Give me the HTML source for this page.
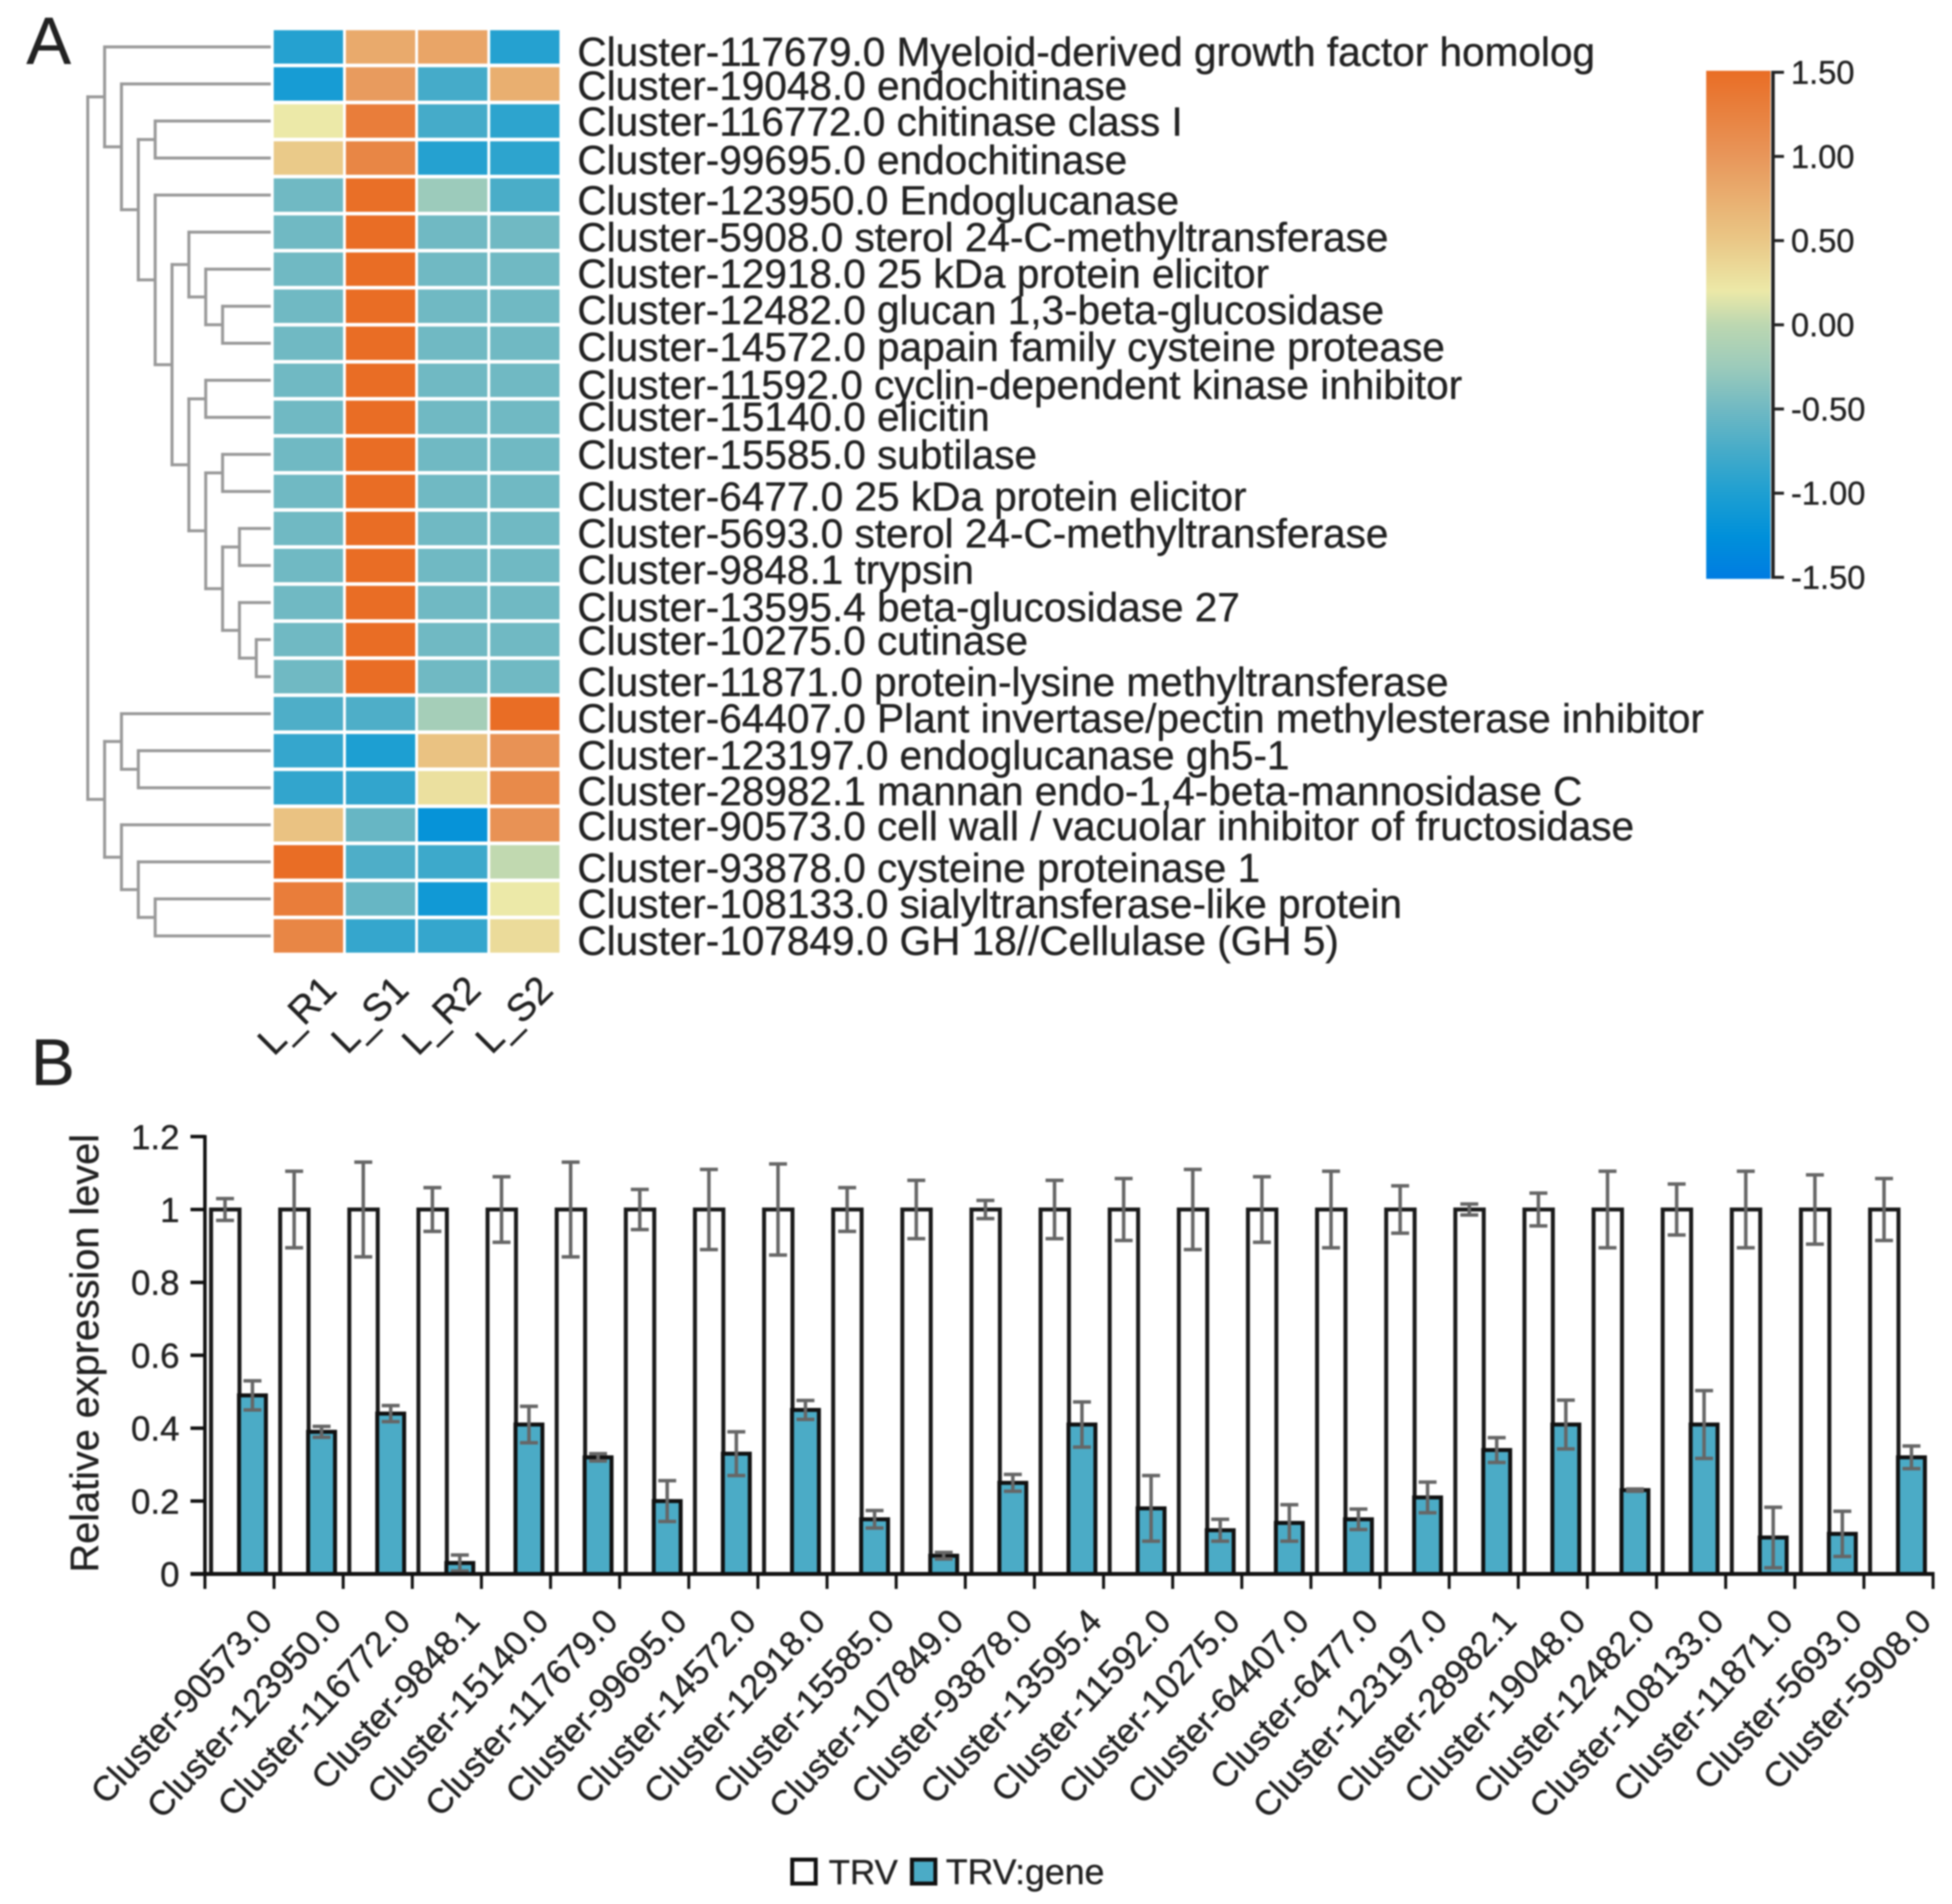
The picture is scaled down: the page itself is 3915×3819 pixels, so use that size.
<!DOCTYPE html>
<html lang="en">
<head>
<meta charset="utf-8">
<title>Heatmap and relative expression chart</title>
<style>
html,body{margin:0;padding:0;background:#fff}
svg{display:block;filter:blur(1.6px)}
text{font-family:"Liberation Sans",sans-serif;fill:#222;stroke:#222;stroke-width:.7px}
.rl{font-size:81.3px}
</style>
</head>
<body>
<svg id="fig" xmlns="http://www.w3.org/2000/svg" width="3915" height="3819" viewBox="0 0 3915 3819">
<rect width="3915" height="3819" fill="#fff"/>
<text x="53" y="128" font-size="134">A</text>
<text x="62" y="2176" font-size="132">B</text>
<g id="dendro"></g>
<g id="heat"></g>
<g id="collabels"></g>
<g transform="translate(0,1)">
<text class="rl" x="1158" y="131">Cluster-117679.0 Myeloid-derived growth factor homolog</text>
<text class="rl" x="1158" y="199">Cluster-19048.0 endochitinase</text>
<text class="rl" x="1158" y="271">Cluster-116772.0 chitinase class I</text>
<text class="rl" x="1158" y="348">Cluster-99695.0 endochitinase</text>
<text class="rl" x="1158" y="429">Cluster-123950.0 Endoglucanase</text>
<text class="rl" x="1158" y="503">Cluster-5908.0 sterol 24-C-methyltransferase</text>
<text class="rl" x="1158" y="576">Cluster-12918.0 25 kDa protein elicitor</text>
<text class="rl" x="1158" y="649">Cluster-12482.0 glucan 1,3-beta-glucosidase</text>
<text class="rl" x="1158" y="723">Cluster-14572.0 papain family cysteine protease</text>
<text class="rl" x="1158" y="799">Cluster-11592.0 cyclin-dependent kinase inhibitor</text>
<text class="rl" x="1158" y="863">Cluster-15140.0 elicitin</text>
<text class="rl" x="1158" y="939">Cluster-15585.0 subtilase</text>
<text class="rl" x="1158" y="1023">Cluster-6477.0 25 kDa protein elicitor</text>
<text class="rl" x="1158" y="1097">Cluster-5693.0 sterol 24-C-methyltransferase</text>
<text class="rl" x="1158" y="1170">Cluster-9848.1 trypsin</text>
<text class="rl" x="1158" y="1245">Cluster-13595.4 beta-glucosidase 27</text>
<text class="rl" x="1158" y="1312">Cluster-10275.0 cutinase</text>
<text class="rl" x="1158" y="1395">Cluster-11871.0 protein-lysine methyltransferase</text>
<text class="rl" x="1158" y="1468">Cluster-64407.0 Plant invertase/pectin methylesterase inhibitor</text>
<text class="rl" x="1158" y="1542">Cluster-123197.0 endoglucanase gh5-1</text>
<text class="rl" x="1158" y="1614">Cluster-28982.1 mannan endo-1,4-beta-mannosidase C</text>
<text class="rl" x="1158" y="1684">Cluster-90573.0 cell wall / vacuolar inhibitor of fructosidase</text>
<text class="rl" x="1158" y="1768">Cluster-93878.0 cysteine proteinase 1</text>
<text class="rl" x="1158" y="1840">Cluster-108133.0 sialyltransferase-like protein</text>
<text class="rl" x="1158" y="1914">Cluster-107849.0 GH 18//Cellulase (GH 5)</text>
</g>
<g id="colorbar"></g>
<g id="bars"></g>
<text transform="translate(197,3154) rotate(-90)" font-size="79.5">Relative expression level</text>
<g>
<rect x="1589" y="3730" width="47" height="48" fill="#fff" stroke="#111" stroke-width="8"/>
<text x="1662" y="3779" font-size="70">TRV</text>
<rect x="1829" y="3730" width="47" height="48" fill="#4babc6" stroke="#111" stroke-width="8"/>
<text x="1897" y="3779" font-size="71.5">TRV:gene</text>
</g>
</svg>
<script>
// ---- heatmap data ----
const heatColumns = ['L_R1', 'L_S1', 'L_R2', 'L_S2'];
const valuesR1 = [-0.95,-1.05,0.2,0.47,-0.5,-0.5,-0.5,-0.5,-0.5,-0.5,-0.5,-0.5,-0.5,-0.5,-0.5,-0.5,-0.5,-0.5,-0.7,-0.85,-0.87,0.55,1.5,1.3,1.2];
const valuesS1 = [0.8,0.95,1.3,1.2,1.48,1.5,1.5,1.5,1.5,1.5,1.5,1.5,1.5,1.5,1.5,1.5,1.5,1.5,-0.7,-1,-0.87,-0.55,-0.7,-0.55,-0.85];
const valuesR2 = [0.85,-0.75,-0.75,-0.95,-0.25,-0.5,-0.5,-0.5,-0.5,-0.5,-0.5,-0.5,-0.5,-0.5,-0.5,-0.5,-0.5,-0.5,-0.18,0.55,0.28,-1.2,-0.8,-1.1,-0.85];
const valuesS2 = [-0.95,0.75,-0.9,-0.9,-0.72,-0.5,-0.5,-0.5,-0.5,-0.5,-0.5,-0.5,-0.5,-0.5,-0.5,-0.5,-0.5,-0.5,1.5,1.05,1.15,1.05,0.02,0.2,0.32];
const scaleValues = [1.5, 1, 0.5, 0.2, 0, -0.25, -0.5, -0.75, -1, -1.25, -1.5];
const scaleColors = ['#e96d25','#e8965a','#eac786','#ece9a8','#bcd7b1','#9ccbbb','#70b9c3','#45abc9','#1d9fd2','#0090da','#007ce2'];
const scaleTickValues = [1.5, 1, 0.5, 0, -0.5, -1, -1.5];
const scaleTickLabels = ['1.50','1.00','0.50','0.00','-0.50','-1.00','-1.50'];
// dendrogram: [level, childA, childB]; a number is a heatmap row
const dendroTree = [0,
  [1, 0, [2, 1, [3, [4, 2, 3],
    [4, 4, [5,
      [6, 5, [7, 6, [8, 7, 8]]],
      [6, [7, 9, 10], [7, [8, 11, 12], [8, [9, 13, 14], [9, 15, [10, 16, 17]]]]]
    ]]
  ]]],
  [1, [2, 18, [3, 19, 20]], [2, 21, [3, 22, [4, 23, 24]]]]
];
// ---- bar chart data ----
const categories = ['Cluster-90573.0','Cluster-123950.0','Cluster-116772.0','Cluster-9848.1','Cluster-15140.0','Cluster-117679.0','Cluster-99695.0','Cluster-14572.0','Cluster-12918.0','Cluster-15585.0','Cluster-107849.0','Cluster-93878.0','Cluster-13595.4','Cluster-11592.0','Cluster-10275.0','Cluster-64407.0','Cluster-6477.0','Cluster-123197.0','Cluster-28982.1','Cluster-19048.0','Cluster-12482.0','Cluster-108133.0','Cluster-11871.0','Cluster-5693.0','Cluster-5908.0'];
const trvValues = [1,1,1,1,1,1,1,1,1,1,1,1,1,1,1,1,1,1,1,1,1,1,1,1,1];
const trvErrors = [0.03,0.105,0.13,0.06,0.09,0.13,0.055,0.11,0.125,0.06,0.08,0.025,0.08,0.085,0.11,0.09,0.105,0.065,0.015,0.045,0.105,0.07,0.105,0.095,0.085];
const geneValues = [0.49,0.39,0.44,0.03,0.41,0.32,0.2,0.33,0.45,0.15,0.05,0.25,0.41,0.18,0.12,0.14,0.15,0.21,0.34,0.41,0.23,0.41,0.1,0.11,0.32];
const geneErrors = [0.04,0.015,0.022,0.022,0.05,0.01,0.056,0.06,0.026,0.024,0.009,0.023,0.062,0.09,0.03,0.05,0.028,0.042,0.034,0.067,0.003,0.093,0.083,0.062,0.031];
const yTickValues = [0, 0.2, 0.4, 0.6, 0.8, 1, 1.2];
const yTickLabels = ['0','0.2','0.4','0.6','0.8','1','1.2'];

const NS = 'http://www.w3.org/2000/svg';
function mk(parent, tag, attrs, txt) {
  const n = document.createElementNS(NS, tag);
  for (const k in attrs) n.setAttribute(k, attrs[k]);
  if (txt !== undefined) n.textContent = txt;
  parent.appendChild(n);
  return n;
}
function hexRgb(h) { return [1,3,5].map(i => parseInt(h.substr(i,2),16)); }
function colorFor(v) {
  if (v >= scaleValues[0]) return scaleColors[0];
  for (let i = 1; i < scaleValues.length; i++) {
    if (v >= scaleValues[i]) {
      const t = (v - scaleValues[i]) / (scaleValues[i-1] - scaleValues[i]);
      const a = hexRgb(scaleColors[i]), b = hexRgb(scaleColors[i-1]);
      return 'rgb(' + a.map((c,j) => Math.round(c + (b[j]-c)*t)).join(',') + ')';
    }
  }
  return scaleColors[scaleColors.length-1];
}

// heatmap axes
const heatX = c => 549 + 144.7 * c;
const heatY = r => 60.6 + 74.3 * r;
const rowMid = r => heatY(r) + 33.5;
const heatG = document.getElementById('heat');
[valuesR1, valuesS1, valuesR2, valuesS2].forEach((col, c) => {
  col.forEach((v, r) => {
    const cell = mk(heatG, 'rect', {x: heatX(c), y: heatY(r), width: 139, height: 67, fill: colorFor(v)});
    
    
  });
});
const colG = document.getElementById('collabels');
heatColumns.forEach((name, c) => {
  const ax = heatX(c) + 130;
  const t = mk(colG, 'text', {transform: 'translate(' + ax + ',1990) rotate(-45)', 'text-anchor': 'end', 'font-size': 77}, name);
  
  
});

// dendrogram
const dendroX = level => 176 + 33.8 * level;
const dendroG = document.getElementById('dendro');
const dendroStyle = {fill: 'none', stroke: '#999', 'stroke-width': 6};
function drawNode(node, parentX) {
  if (typeof node === 'number') {
    const y = rowMid(node);
    const leaf = mk(dendroG, 'path', Object.assign({d: 'M' + parentX + ' ' + y + 'H543'}, dendroStyle));
    
    
    return y;
  }
  const x = dendroX(node[0]);
  const y1 = drawNode(node[1], x);
  const y2 = drawNode(node[2], x);
  const y = (y1 + y2) / 2;
  const d = 'M' + x + ' ' + y1 + 'V' + y2 + (parentX === null ? '' : 'M' + parentX + ' ' + y + 'H' + x);
  const branch = mk(dendroG, 'path', Object.assign({d: d, 'stroke-linecap': 'square'}, dendroStyle));
  
  
  return y;
}
drawNode(dendroTree, null);

// colorbar
const cbY = v => 651.5 - 337.7 * v;
const cbG = document.getElementById('colorbar');
const svgRoot = document.getElementById('fig');
const defs = mk(svgRoot, 'defs', {});
const grad = mk(defs, 'linearGradient', {id: 'cbgrad', x1: 0, y1: 0, x2: 0, y2: 1});
scaleValues.forEach((v, i) => {
  mk(grad, 'stop', {offset: (1.5 - v) / 3, 'stop-color': scaleColors[i]});
});
const cbRect = mk(cbG, 'rect', {x: 3422, y: cbY(1.5) - 3, width: 129, height: cbY(-1.5) - cbY(1.5) + 6, fill: 'url(#cbgrad)'});


const cbAxis = mk(cbG, 'line', {x1: 3556, x2: 3556, y1: cbY(1.5) - 3, y2: cbY(-1.5) + 3, stroke: '#222', 'stroke-width': 7});


scaleTickValues.forEach((v, i) => {
  const tk = mk(cbG, 'line', {x1: 3556, x2: 3578, y1: cbY(v), y2: cbY(v), stroke: '#222', 'stroke-width': 6});
  
  
  const lb = mk(cbG, 'text', {x: 3592, y: cbY(v) + 23, 'font-size': 65.5}, scaleTickLabels[i]);
  
  
});

// bar chart axes
const yScale = v => 3157 - 731 * v;
const tickX = i => 411 + 138.64 * i;
const centerX = i => tickX(i) + 69.32;
const barsG = document.getElementById('bars');
categories.forEach((name, i) => {
  const c = centerX(i);
  const wb = mk(barsG, 'rect', {x: c - 57, y: yScale(trvValues[i]), width: 57, height: yScale(0) - yScale(trvValues[i]), fill: '#fff', stroke: '#1a1a1a', 'stroke-width': 8});
  
  
});
categories.forEach((name, i) => {
  const c = centerX(i);
  const bb = mk(barsG, 'rect', {x: c - 1, y: yScale(geneValues[i]), width: 54, height: yScale(0) - yScale(geneValues[i]), fill: '#4babc6', stroke: '#111', 'stroke-width': 8});
  
  
});
function errorBar(x, v, e, name) {
  const y1 = yScale(v + e), y2 = yScale(v - e);
  const p = mk(barsG, 'path', {d: 'M' + x + ' ' + y1 + 'V' + y2 + 'M' + (x-18) + ' ' + y1 + 'h36M' + (x-18) + ' ' + y2 + 'h36', fill: 'none', stroke: '#666', 'stroke-width': 7});
  
  
}
categories.forEach((name, i) => {
  const c = centerX(i);
  errorBar(c - 29, trvValues[i], trvErrors[i], 'error-bar-trv');
  errorBar(c + 26, geneValues[i], geneErrors[i], 'error-bar-trv-gene');
});
const yAxis = mk(barsG, 'line', {x1: 411, x2: 411, y1: yScale(1.2) - 3, y2: yScale(0) + 3, stroke: '#111', 'stroke-width': 7});


const xAxis = mk(barsG, 'line', {x1: 382, x2: tickX(categories.length) + 3, y1: yScale(0), y2: yScale(0), stroke: '#111', 'stroke-width': 8});


yTickValues.forEach((v, i) => {
  const tk = mk(barsG, 'line', {x1: 382, x2: 411, y1: yScale(v), y2: yScale(v), stroke: '#111', 'stroke-width': 7});
  
  
  const lb = mk(barsG, 'text', {x: 360, y: yScale(v) + 25, 'text-anchor': 'end', 'font-size': 70}, yTickLabels[i]);
  
  
});
for (let i = 0; i <= categories.length; i++) {
  const tk = mk(barsG, 'line', {x1: tickX(i), x2: tickX(i), y1: yScale(0), y2: yScale(0) + 30, stroke: '#111', 'stroke-width': 6});
  
  
}
categories.forEach((name, i) => {
  const t = mk(barsG, 'text', {transform: 'translate(' + tickX(i + 1) + ',3255) rotate(-47.5)', 'text-anchor': 'end', 'font-size': 70}, name);
  
  
});
</script>
</body>
</html>
